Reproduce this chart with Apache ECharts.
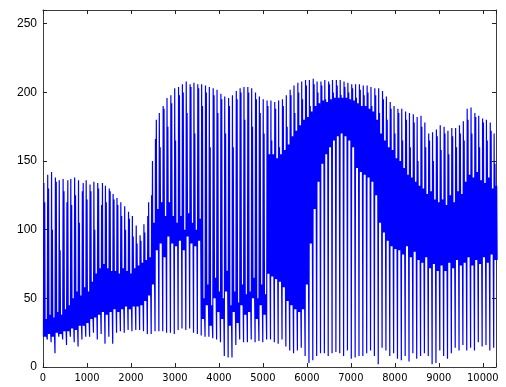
<!DOCTYPE html>
<html>
<head>
<meta charset="utf-8">
<script src="https://cdn.jsdelivr.net/npm/echarts@6/dist/echarts.min.js"></script>
<style>
html,body{margin:0;padding:0;background:#fff;}
#chart{width:506px;height:387px;}
</style>
</head>
<body>
<div id="chart"></div>
<script>
// Per-cycle values (one cycle ≈ 87.5 samples on the x axis)
const cycleStart = 10;
const cycleLength = 87.5;
const peaks = [
  134,140,142,138,136,137,120,137,138,136,128,136,
  133,135,134,118,132,130,126,123,120,117,113,110,
  103,96,104,110,125,166,185,190,196,198,203,204,
  206,208,206,207,206,206,205,204,203,202,199,197,
  196,198,201,203,204,204,203,200,197,195,194,194,
  193,194,195,198,202,205,207,208,209,209,210,208,
  208,209,208,209,209,209,208,207,206,206,206,205,
  205,204,203,203,201,197,193,190,188,188,186,185,
  184,182,183,178,170,171,173,176,175,172,174,174,
  176,179,188,189,185,183,181,180,178,170
];
const secondPeaks = [
  120,130,100,135,85,128,136,118,125,105,134,122,
  128,100,130,134,120,128,122,118,110,100,108,95,
  90,92,98,120,150,180,160,188,175,192,165,198,
  200,185,204,170,203,190,200,160,198,185,195,170,
  190,160,195,200,180,200,175,195,185,170,190,165,
  188,160,190,175,198,185,200,195,205,190,206,200,
  205,195,206,200,205,198,204,200,203,196,202,198,
  200,190,198,185,195,180,188,170,185,165,180,160,
  178,150,175,160,165,150,168,158,170,155,168,160,
  170,165,180,170,182,160,178,165,172,148
];
const troughs = [
  22,20,18,10,22,20,16,22,18,15,20,22,
  22,25,20,24,17,22,17,25,26,25,27,26,
  27,27,26,24,24,26,26,26,25,25,24,27,
  28,27,28,25,24,23,22,22,21,20,18,8,
  7,7,16,20,18,18,20,18,19,18,20,20,
  18,17,20,15,12,10,12,14,8,3,5,8,
  10,10,8,10,11,10,8,12,6,7,8,8,
  10,12,8,2,14,12,8,10,6,5,8,4,
  10,6,8,10,8,2,3,12,8,6,10,14,
  12,16,12,14,12,18,15,16,12,14
];
const bandLow = [
  22,24,22,25,24,26,26,28,27,30,30,32,
  35,36,38,40,38,40,42,40,42,44,42,44,
  44,45,48,52,60,85,90,80,95,90,88,92,
  85,95,90,88,92,35,45,30,50,40,35,55,
  30,40,32,45,38,40,50,35,45,38,68,66,
  64,62,58,48,45,42,40,42,60,90,115,135,
  148,155,160,165,168,170,168,165,160,145,142,140,
  138,135,125,105,98,92,88,86,85,82,88,80,
  84,78,76,80,72,75,70,74,70,76,72,78,
  74,76,80,74,78,75,80,76,82,78
];
const bandHigh = [
  35,38,36,40,38,42,45,50,55,52,58,55,
  62,68,72,75,72,70,70,68,72,70,68,72,
  74,76,78,80,105,115,120,110,120,110,105,110,
  100,112,105,100,108,50,60,45,65,55,50,70,
  45,55,47,60,53,55,65,50,60,53,155,155,
  152,155,158,162,168,172,176,180,182,186,190,192,
  194,193,195,196,196,196,196,195,194,192,190,190,
  188,186,180,170,165,160,158,152,150,145,140,138,
  135,132,130,126,128,122,120,122,118,125,120,128,
  126,135,140,138,142,136,134,138,130,132
];
const xTicks = [0,1000,2000,3000,4000,5000,6000,7000,8000,9000,10000];
const yTicks = [0,50,100,150,200,250];

// Build the sample sequence cycle by cycle:
// trough -> peak -> band -> second peak -> band oscillation
const data = [];
for (let i = 0; i < peaks.length; i++) {
  const seq = [troughs[i], peaks[i], bandLow[i], secondPeaks[i], bandLow[i],
               bandHigh[i], bandLow[i], bandHigh[i], bandLow[i]];
  const x0 = cycleStart + i * cycleLength;
  for (let k = 0; k < seq.length; k++) {
    data.push([x0 + k * cycleLength / seq.length, seq[k]]);
  }
}

const labelFont = "'Liberation Sans Narrow','DejaVu Sans Condensed','Liberation Sans',Arial,sans-serif";
const frame = {show:true, onZero:false, lineStyle:{color:'#3c3c3c', width:1}};
const tick = {show:true, inside:true, length:4, lineStyle:{color:'#222', width:1}};

const chart = echarts.init(document.getElementById('chart'), null, {renderer:'canvas'});
chart.setOption({
  animation:false,
  backgroundColor:'#fff',
  grid:{left:43, right:10, top:10, bottom:20, containLabel:false},
  xAxis:[
    {type:'value', min:0, max:10300, interval:1000, position:'bottom',
     axisLine:frame, axisTick:tick, splitLine:{show:false},
     axisLabel:{show:true, margin:6, fontSize:11, color:'#000', fontFamily:labelFont,
       formatter:v => xTicks.indexOf(v) >= 0 ? String(v) : ''}},
    {type:'value', min:0, max:10300, interval:1000, position:'top',
     axisLine:frame, axisTick:tick, splitLine:{show:false}, axisLabel:{show:false}}
  ],
  yAxis:[
    {type:'value', min:0, max:260, interval:50, position:'left',
     axisLine:frame, axisTick:tick, splitLine:{show:false},
     axisLabel:{show:true, margin:6, fontSize:12, color:'#000', fontFamily:"'Liberation Sans',Arial,sans-serif",
       formatter:v => yTicks.indexOf(v) >= 0 ? String(v) : ''}},
    {type:'value', min:0, max:260, interval:50, position:'right',
     axisLine:frame, axisTick:tick, splitLine:{show:false}, axisLabel:{show:false}}
  ],
  series:[{
    type:'line', xAxisIndex:0, yAxisIndex:0, data:data,
    showSymbol:false, symbol:'none', sampling:null, clip:true,
    lineStyle:{color:'#0000ff', width:1.2}, progressive:0
  }]
});
</script>
</body>
</html>
